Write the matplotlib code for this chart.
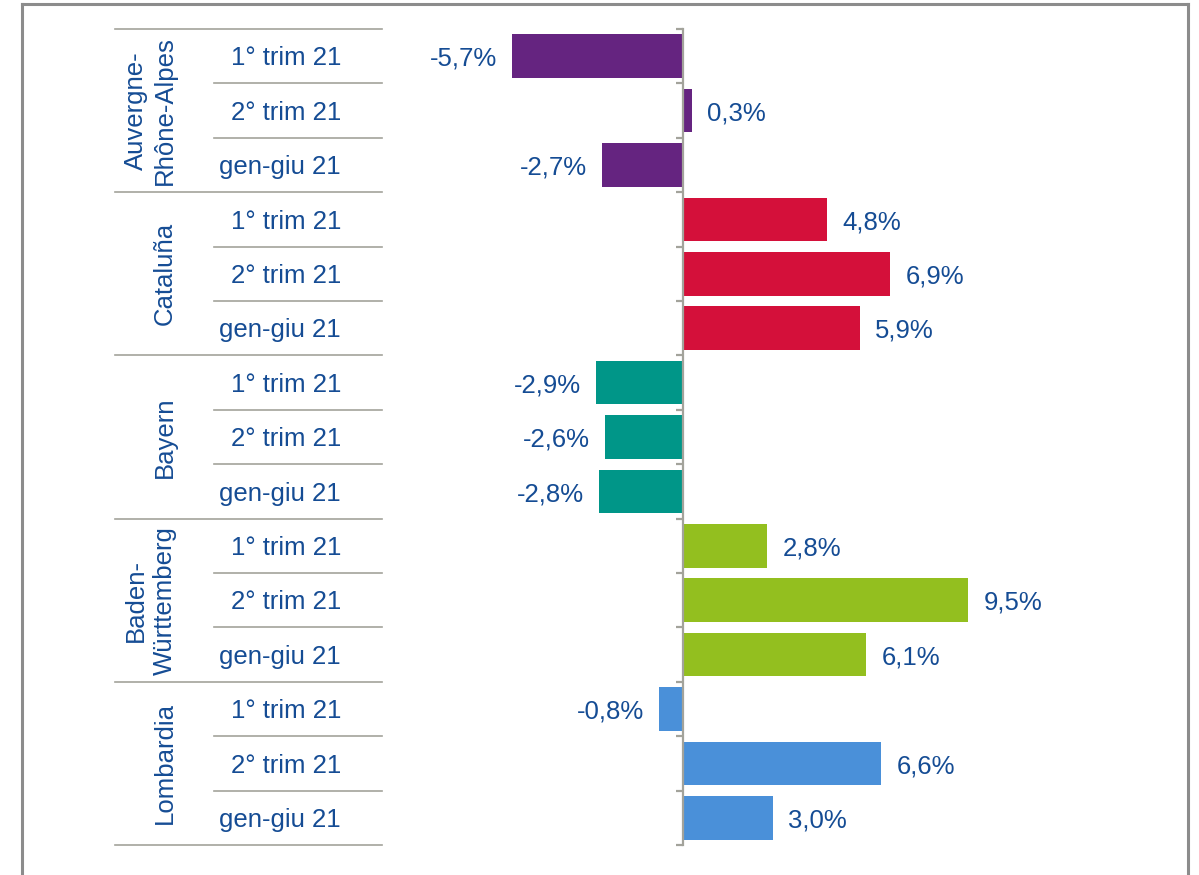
import matplotlib
matplotlib.use("Agg")
import matplotlib.pyplot as plt
from matplotlib.lines import Line2D
import numpy as np

# ---------------- data ----------------
regions = ['Auvergne-\nRhône-Alpes', 'Cataluña', 'Bayern', 'Baden-\nWürttemberg', 'Lombardia']
periods = ['1° trim 21', '2° trim 21', 'gen-giu 21']
auvergne = [-5.7, 0.3, -2.7]
cataluna = [4.8, 6.9, 5.9]
bayern = [-2.9, -2.6, -2.8]
baden = [2.8, 9.5, 6.1]
lombardia = [-0.8, 6.6, 3.0]
colors = ['#652480', '#d4103a', '#009688', '#93bf1f', '#4a90d9']

values = auvergne + cataluna + bayern + baden + lombardia
bar_colors = [c for c in colors for _ in periods]
n = len(values)

# ---------------- style ----------------
plt.rcParams['font.family'] = ['Liberation Sans', 'DejaVu Sans']
txt_col = '#154c94'
grid_col = '#a3a39b'
f_size = 18.5

W, H = 1199, 875
fig = plt.figure(figsize=(W / 100, H / 100), dpi=100)

y_top, y_bot = 29, 845
bottom = (H - y_bot) / H
height = (y_bot - y_top) / H

# bar axes
ax = fig.add_axes([390 / W, bottom, (1180 - 390) / W, height])
x0 = 683
ppu = 30.0
ax.set_xlim(-(x0 - 390) / ppu, (1180 - x0) / ppu)
ax.set_ylim(n - 0.5, -0.5)

y = np.arange(n)
ax.barh(y, values, height=0.8, color=bar_colors, zorder=2)

for yi, v in zip(y, values):
    lbl = f"{v:.1f}%".replace('.', ',')
    if v >= 0:
        ax.annotate(lbl, (v, yi), xytext=(11, -2), textcoords='offset points',
                    ha='left', va='center', fontsize=f_size, color=txt_col)
    else:
        ax.annotate(lbl, (v, yi), xytext=(-11, -2), textcoords='offset points',
                    ha='right', va='center', fontsize=f_size, color=txt_col)

for s in ['top', 'right', 'bottom']:
    ax.spines[s].set_visible(False)
ax.spines['left'].set_position(('data', 0))
ax.spines['left'].set_color(grid_col)
ax.spines['left'].set_linewidth(1.6)
ax.set_yticks(np.arange(-0.5, n, 1))
ax.set_yticklabels([])
ax.tick_params(axis='y', direction='out', length=5, width=1.6, color=grid_col)
ax.set_xticks([])
ax.patch.set_visible(False)

# table axes on the left
tx = fig.add_axes([115 / W, bottom, (382 - 115) / W, height])
tx.set_xlim(0, 267)
tx.set_ylim(n - 0.5, -0.5)
tx.axis('off')

for b in np.arange(-0.5, n, 1):
    if (b + 0.5) % len(periods) == 0:
        tx.plot([0, 267], [b, b], color=grid_col, lw=1.2, clip_on=False)
    else:
        tx.plot([99, 267], [b, b], color=grid_col, lw=1.2, clip_on=False)

for i in range(n):
    tx.text(226, i + 0.04, periods[i % len(periods)], ha='right', va='center',
            fontsize=f_size, color=txt_col)

for g, name in enumerate(regions):
    yc = g * len(periods) + 1
    tx.text(62, yc, name, rotation=90, ha='right', va='center',
            fontsize=f_size, color=txt_col, multialignment='center', linespacing=1.25)

# outer frame
fc = '#8c8c8c'
fig.add_artist(Line2D([22 / W, 22 / W], [0, 1 - 4 / H], color=fc, lw=2.2))
fig.add_artist(Line2D([1188 / W, 1188 / W], [0, 1 - 4 / H], color=fc, lw=2.2))
fig.add_artist(Line2D([22 / W, 1188 / W], [1 - 4 / H, 1 - 4 / H], color=fc, lw=2.2))

fig.savefig("out.png", dpi=100)
